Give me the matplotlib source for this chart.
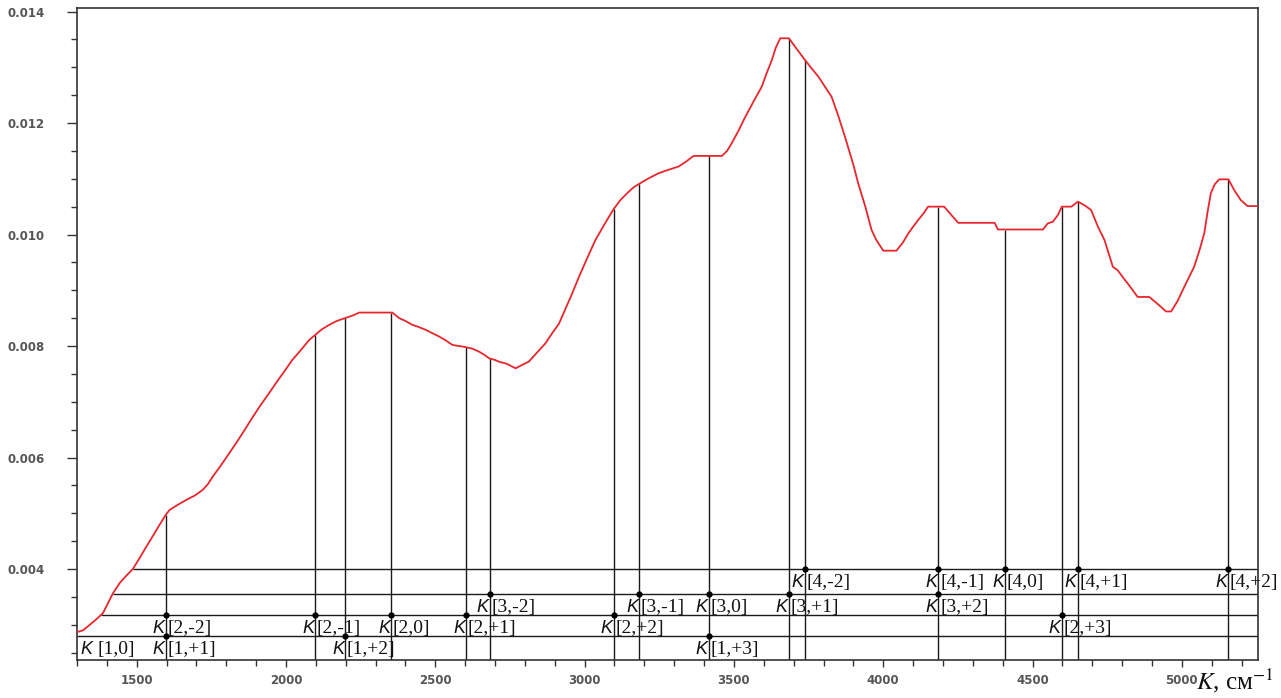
import numpy as np
import matplotlib
matplotlib.use("Agg")
import matplotlib.pyplot as plt
from matplotlib.ticker import MultipleLocator

# ---- data ----
wavenumber = [1300, 1320, 1343, 1365, 1387, 1420, 1443, 1465, 1487, 1510,
              1532, 1555, 1575, 1597, 1610, 1640, 1666, 1695, 1721, 1738,
              1755, 1778, 1800, 1828, 1855, 1883, 1911, 1940, 1967, 1995,
              2021, 2050, 2078, 2098, 2120, 2145, 2170, 2198, 2225, 2245,
              2300, 2356, 2379, 2400, 2423, 2445, 2468, 2490, 2513, 2535,
              2557, 2602, 2625, 2646, 2665, 2680, 2700, 2713, 2740, 2769,
              2790, 2813, 2840, 2869, 2890, 2914, 2935, 2958, 2981, 3008,
              3036, 3065, 3095, 3120, 3148, 3165, 3183, 3215, 3248, 3280,
              3315, 3340, 3365, 3415, 3460, 3477, 3493, 3515, 3538, 3565,
              3593, 3610, 3627, 3640, 3655, 3684, 3710, 3738, 3760, 3783,
              3805, 3827, 3850, 3872, 3900, 3916, 3940, 3961, 3977, 4000,
              4044, 4065, 4084, 4100, 4117, 4135, 4150, 4204, 4228, 4251,
              4373, 4384, 4535, 4551, 4568, 4585, 4598, 4630, 4652, 4675,
              4696, 4719, 4741, 4769, 4785, 4800, 4819, 4852, 4891, 4920,
              4947, 4964, 4985, 5008, 5041, 5058, 5075, 5086, 5097, 5110,
              5125, 5156, 5175, 5197, 5220, 5255]
intensity = [0.00287, 0.00290, 0.00300, 0.00310, 0.00321, 0.00356, 0.00375, 0.00388, 0.00400, 0.00420,
             0.00440, 0.00460, 0.00478, 0.00497, 0.00506, 0.00516, 0.00524, 0.00532, 0.00542, 0.00552,
             0.00566, 0.00583, 0.00600, 0.00622, 0.00644, 0.00668, 0.00691, 0.00713, 0.00734, 0.00755,
             0.00775, 0.00793, 0.00811, 0.00820, 0.00830, 0.00838, 0.00845, 0.00850, 0.00855, 0.00860,
             0.00860, 0.00860, 0.00850, 0.00845, 0.00838, 0.00834, 0.00829, 0.00823, 0.00817, 0.00810,
             0.00802, 0.00798, 0.00795, 0.00790, 0.00784, 0.00778, 0.00775, 0.00772, 0.00768, 0.00760,
             0.00766, 0.00772, 0.00788, 0.00805, 0.00822, 0.00840, 0.00866, 0.00894, 0.00924, 0.00957,
             0.00990, 0.01017, 0.01044, 0.01062, 0.01077, 0.01085, 0.01091, 0.01101, 0.01110, 0.01116,
             0.01122, 0.01131, 0.01141, 0.01141, 0.01141, 0.01150, 0.01164, 0.01186, 0.01211, 0.01238,
             0.01265, 0.01290, 0.01313, 0.01335, 0.01352, 0.01352, 0.01333, 0.01313, 0.01298, 0.01283,
             0.01265, 0.01247, 0.01212, 0.01175, 0.01125, 0.01092, 0.01050, 0.01008, 0.00990, 0.00971,
             0.00971, 0.00985, 0.01002, 0.01014, 0.01026, 0.01038, 0.01050, 0.01050, 0.01035, 0.01021,
             0.01021, 0.01009, 0.01009, 0.01020, 0.01023, 0.01035, 0.01050, 0.01050, 0.01059, 0.01052,
             0.01044, 0.01014, 0.00990, 0.00942, 0.00936, 0.00925, 0.00912, 0.00888, 0.00888, 0.00875,
             0.00862, 0.00862, 0.00880, 0.00906, 0.00942, 0.00970, 0.01002, 0.01040, 0.01074, 0.01090,
             0.01099, 0.01099, 0.01080, 0.01062, 0.01051, 0.01051]

level_m = [1, 2, 3, 4]
level_value = [0.00280, 0.00318, 0.00355, 0.00400]

line_x = [1597, 2098, 2198, 2352, 2603, 2682, 3098, 3183, 3415, 3684,
          3738, 4185, 4408, 4598, 4652, 5155]

label_m = [1, 1, 1, 2, 2, 2, 2, 2, 2, 3, 3, 3, 3, 3, 4, 4, 4, 4, 4]
label_n = ["+1", "+2", "+3", "-2", "-1", "0", "+1", "+2", "+3",
           "-2", "-1", "0", "+1", "+2", "-2", "-1", "0", "+1", "+2"]
label_x = [1597, 2198, 3415, 1597, 2098, 2352, 2603, 3098, 4598,
           2682, 3183, 3415, 3684, 4185, 3738, 4185, 4408, 4652, 5155]
base_label_x = 1363   # K[1,0], no line

x_min, x_max = 1300, 5255
y_min, y_max = 0.002368, 0.014063

# ---- figure ----
plt.rcParams["mathtext.fontset"] = "stix"
fig = plt.figure(figsize=(12.81, 6.98), dpi=100)
ax = fig.add_axes([0.0601, 0.0544, 0.92195, 0.93414])

wn = np.array(wavenumber, dtype=float)
it = np.array(intensity, dtype=float)

ax.plot(wn, it, color="#e8262e", lw=1.3, zorder=3)

# vertical lines up to the curve
tops = np.interp(line_x, wn, it)
ax.vlines(line_x, y_min, tops, color="#1a1a1a", lw=1.0, zorder=2)

# horizontal level lines, starting where the curve reaches them
rise = int(np.argmax(it))
rise = int(np.searchsorted(wn, 2245)) + 1
for lv in level_value:
    start = np.interp(lv, it[:rise], wn[:rise])
    ax.hlines(lv, start, x_max, color="#1a1a1a", lw=1.0, zorder=2)

# dots and labels
lev = dict(zip(level_m, level_value))
for m, n, x in zip(label_m, label_n, label_x):
    y = lev[m]
    ax.plot([x], [y], "o", color="black", ms=3.5, zorder=4)
    ax.annotate("K", (x, y), xytext=(-0.8, -13.2), textcoords="offset points",
                ha="right", va="baseline", fontsize=13, style="italic",
                family="Liberation Sans", color="#111")
    ax.annotate(f"[{m},{n}]", (x, y), xytext=(1.2, -13.2), textcoords="offset points",
                ha="left", va="baseline", fontsize=14,
                family="Liberation Serif", color="#111")
y = lev[1]
ax.annotate("K", (base_label_x, y), xytext=(-2.5, -13.2), textcoords="offset points",
            ha="right", va="baseline", fontsize=13, style="italic",
            family="Liberation Sans", color="#111")
ax.annotate("[1,0]", (base_label_x, y), xytext=(1.0, -13.2), textcoords="offset points",
            ha="left", va="baseline", fontsize=14, family="Liberation Serif", color="#111")

# axes
ax.set_xlim(x_min, x_max)
ax.set_ylim(y_min, y_max)
ax.xaxis.set_major_locator(MultipleLocator(500))
ax.xaxis.set_minor_locator(MultipleLocator(100))
ax.yaxis.set_major_locator(MultipleLocator(0.002))
ax.yaxis.set_minor_locator(MultipleLocator(0.0005))
ax.yaxis.set_major_formatter(plt.FuncFormatter(lambda v, p: f"{v:.3f}"))
ax.xaxis.set_major_formatter(plt.FuncFormatter(lambda v, p: f"{v:.0f}"))
ax.tick_params(axis="both", which="both", direction="out", color="#333", width=1.0)
ax.tick_params(axis="y", which="major", length=7, pad=16)
ax.tick_params(axis="y", which="minor", length=4)
ax.tick_params(axis="x", which="major", length=5, pad=5)
ax.tick_params(axis="x", which="minor", length=4)
for lab in ax.get_xticklabels() + ax.get_yticklabels():
    lab.set_fontsize(8.5)
    lab.set_color("#555")
    lab.set_fontweight("bold")
    lab.set_family("DejaVu Sans")
for s in ax.spines.values():
    s.set_color("#333")
    s.set_linewidth(1.2)

fig.text(0.934, 0.012, "$K$, см$^{-1}$", fontsize=18, family="Liberation Serif",
         ha="left", va="baseline", color="#111")

fig.savefig("out.png", dpi=100)
